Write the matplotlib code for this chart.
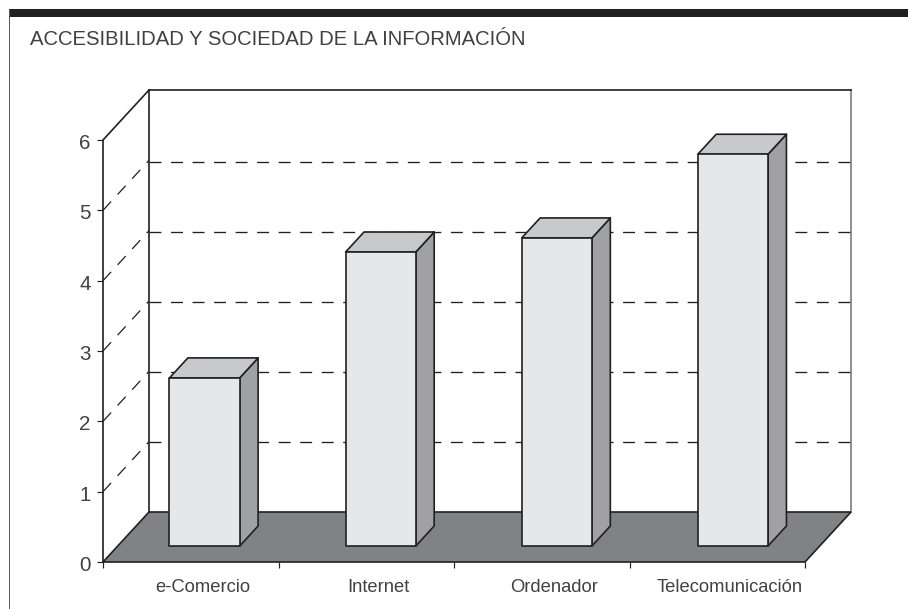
import matplotlib
matplotlib.use('Agg')
import matplotlib.pyplot as plt
from matplotlib.patches import Polygon, Rectangle
from matplotlib.transforms import Affine2D

categories = ['e-Comercio', 'Internet', 'Ordenador', 'Telecomunicación']
values = [2.39, 4.18, 4.38, 5.57]
y_ticks = [0, 1, 2, 3, 4, 5, 6]
grid_levels = [1.0, 1.99, 2.99, 3.98, 4.97]
title = 'ACCESIBILIDAD Y SOCIEDAD DE LA INFORMACIÓN'

W, H = 908, 609
plt.rcParams['font.family'] = ['Liberation Sans', 'DejaVu Sans']
plt.rcParams['lines.scale_dashes'] = False

fig = plt.figure(figsize=(W / 100, H / 100), dpi=100, facecolor='white')

# front plane of the 3D box, pixels from the picture
L, R, B, T = 103, 805, 562, 140
ax = fig.add_axes([L / W, 1 - B / H, (R - L) / W, (B - T) / H])
ax.set_xlim(0, len(categories))
ax.set_ylim(0, 6)
ax.set_facecolor('none')
for s in ax.spines.values():
    s.set_visible(False)

# depth projection in data units
DX = 46 / ((R - L) / len(categories))
DY = 50 / ((B - T) / 6)


def P(x, y, d=0.0):
    return (x + DX * d, y + DY * d)


INK = '#231f20'
LW = 1.2
n = len(categories)
top = 6

# back wall + floor
ax.add_patch(Polygon([P(0, 0), P(n, 0), P(n, 0, 1), P(0, 0, 1)], closed=True,
                     fc='#808285', ec=INK, lw=LW, clip_on=False, zorder=2, joinstyle='miter'))
ax.plot(*zip(P(n, 0, 1), P(n, top, 1)), color='#7d7d7d', lw=LW, clip_on=False, zorder=1)
ax.plot(*zip(P(0, top, 1), P(n, top, 1)), color=INK, lw=LW, clip_on=False, zorder=1)
ax.plot(*zip(P(0, 0, 1), P(0, top, 1)), color=INK, lw=LW, clip_on=False, zorder=3)
ax.plot(*zip(P(0, 0), P(0, top), P(0, top, 1)), color=INK, lw=LW, clip_on=False, zorder=3)

# dashed grid
dash = (0, (8.6, 6.9))
for v in grid_levels:
    ax.plot(*zip(P(0, v, 1), P(n, v, 1)), color=INK, lw=0.95, ls=dash, clip_on=False, zorder=1)
for v in y_ticks[1:-1]:
    ax.plot(*zip(P(0, v), P(0, v, 1)), color=INK, lw=0.9, ls=dash, clip_on=False, zorder=1)

# bars
w = 0.4
d0, d1 = 0.32, 0.72
for i, v in enumerate(values):
    c = i * 1.0035 + 0.495
    x0, x1 = c - w / 2, c + w / 2
    kw = dict(closed=True, ec=INK, lw=LW, clip_on=False, zorder=4, joinstyle='round')
    ax.add_patch(Polygon([P(x1, 0, d0), P(x1, 0, d1), P(x1, v, d1), P(x1, v, d0)], fc='#a0a1a4', **kw))
    ax.add_patch(Polygon([P(x0, v, d0), P(x1, v, d0), P(x1, v, d1), P(x0, v, d1)], fc='#c8c9cb', **kw))
    ax.add_patch(Polygon([P(x0, 0, d0), P(x1, 0, d0), P(x1, v, d0), P(x0, v, d0)], fc='#e6e7e8', **kw))

# axes ticks and labels
ax.set_yticks(y_ticks)
ax.set_xticks(range(n + 1))
ax.set_xticklabels([])
ax.set_xticks([i + 0.57 for i in range(n)], minor=True)
ax.set_xticklabels(categories, minor=True)
ax.tick_params(axis='y', length=4.5, width=0.85, color=INK, labelcolor='#414042', labelsize=14.8, pad=4.5)
ax.tick_params(axis='x', which='major', length=4.5, width=0.85, color=INK)
ax.tick_params(axis='x', which='minor', length=0, labelcolor='#414042', labelsize=13.2, pad=12.5)
for lab in ax.get_yticklabels():
    lab.set_transform(lab.get_transform() + Affine2D().translate(0, -1.5))

# page frame
fig.add_artist(Rectangle((9 / W, 1 - 16.5 / H), 1, 8 / H, transform=fig.transFigure, fc='#231f20', ec='none'))
fig.add_artist(Rectangle((8.5 / W, 0), 1.8 / W, 1 - 8.5 / H, transform=fig.transFigure, fc='#58595b', ec='none'))
fig.text(29.5 / W, 1 - 39.5 / H, title, fontsize=14.6, color='#414042', ha='left', va='center')

fig.savefig('out.png', dpi=100, facecolor='white')
